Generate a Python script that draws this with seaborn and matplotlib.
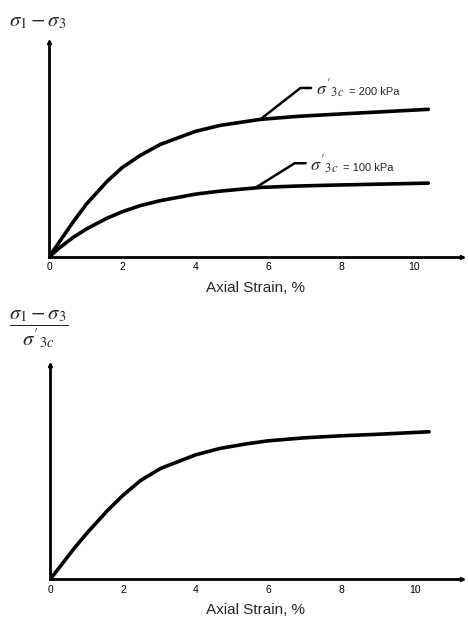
import numpy as np
import matplotlib
matplotlib.use("Agg")
import matplotlib.pyplot as plt
import seaborn as sns

# values (y in arbitrary units, 0 at the origin)
strain_top = [0, 0.3, 0.66, 1.03, 1.58, 2.0, 2.49, 3.04, 4.0, 4.68, 5.78, 6.8, 7.78, 10.38]
dev_200 = [0, 16, 35, 53, 75, 89, 101, 112, 125, 131, 137, 140, 142, 147]
dev_100 = [0, 9.5, 19.5, 28, 38.5, 45, 51, 56, 62.5, 65.5, 69.2, 70.6, 71.5, 73.5]

strain_bot = [0, 0.3, 0.66, 1.03, 1.58, 2.0, 2.49, 3.04, 4.0, 4.68, 5.4, 6, 7, 8, 9, 10.4]
norm_dev = [0, 14, 31, 47, 69, 84, 99, 111, 124.5, 131, 135.5, 138.5, 141.5, 143.5, 145, 147.5]

xticks = [0, 2, 4, 6, 8, 10]
sigma_3c = r"$\sigma'_{3c}$"
labels = ["= 200 kPa", "= 100 kPa"]

sns.set_style("white")
plt.rcParams["font.family"] = ["Liberation Sans", "DejaVu Sans"]
plt.rcParams["mathtext.fontset"] = "stix"

fig = plt.figure(figsize=(4.68, 6.19), dpi=100)
ax1 = fig.add_axes([0.105, 0.585, 0.882, 0.347])
ax2 = fig.add_axes([0.107, 0.064, 0.880, 0.346])


def style_axis(ax, ytop):
    ax.set_xlim(0, 11.3)
    ax.set_ylim(0, ytop)
    sns.despine(ax=ax)
    for s in ["left", "bottom"]:
        ax.spines[s].set_linewidth(2.0)
        ax.spines[s].set_color("black")
    ax.set_xticks(xticks)
    ax.set_yticks([])
    ax.tick_params(axis="x", direction="inout", length=6, width=1.6,
                   labelsize=7.5, pad=1, colors="black")
    ax.plot(1, 0, ">k", ms=3, transform=ax.get_yaxis_transform(), clip_on=False)
    ax.plot(0, 1, "^k", ms=3, transform=ax.get_xaxis_transform(), clip_on=False)
    ax.set_xlabel("Axial Strain, %", fontsize=11, labelpad=6)


def leader(ax, xs, ys, x_at, text_pos, angle, label):
    ax.annotate(sigma_3c, xy=(x_at, np.interp(x_at, xs, ys)), xytext=text_pos,
                fontsize=13, ha="left", va="baseline",
                arrowprops=dict(arrowstyle="-", lw=1.8, color="black",
                                relpos=(0, 0.55), shrinkA=1, shrinkB=0,
                                connectionstyle=f"angle,angleA=0,angleB={angle},rad=0"))
    ax.text(text_pos[0] + 0.9, text_pos[1], label, fontsize=8, ha="left", va="baseline")


# top panel
sns.lineplot(x=strain_top, y=dev_200, ax=ax1, color="black", lw=2.6)
sns.lineplot(x=strain_top, y=dev_100, ax=ax1, color="black", lw=2.6)
style_axis(ax1, 214)

leader(ax1, strain_top, dev_200, 5.78, (7.3, 161), 38, labels[0])
leader(ax1, strain_top, dev_100, 5.64, (7.15, 86), 32, labels[1])

fig.text(0.02, 0.965, r"$\sigma_1 - \sigma_3$", fontsize=15, ha="left", va="center")

# bottom panel
sns.lineplot(x=strain_bot, y=norm_dev, ax=ax2, color="black", lw=2.6)
style_axis(ax2, 214)

fig.text(0.02, 0.468, r"$\dfrac{\sigma_1 - \sigma_3}{\sigma'_{3c}}$", fontsize=15,
         ha="left", va="center")

fig.savefig("out.png", dpi=100)
